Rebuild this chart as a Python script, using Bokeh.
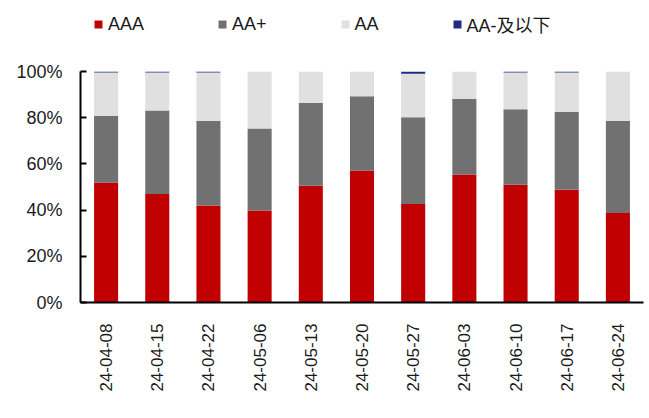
import math
from bokeh.plotting import figure
from bokeh.layouts import column
from bokeh.models import ColumnDataSource, Legend, LegendItem, NumeralTickFormatter, FixedTicker, Range1d
from bokeh.embed import file_html
from bokeh.resources import INLINE

dates = ["24-04-08", "24-04-15", "24-04-22", "24-05-06", "24-05-13", "24-05-20",
         "24-05-27", "24-06-03", "24-06-10", "24-06-17", "24-06-24"]
aaa = [51.9, 47.0, 42.0, 39.8, 50.5, 57.1, 42.6, 55.4, 51.0, 48.8, 38.7]
aa_plus = [28.9, 36.1, 36.6, 35.5, 35.9, 32.2, 37.6, 32.8, 32.7, 33.7, 40.0]
aa = [18.8, 16.5, 21.0, 24.7, 13.6, 10.7, 18.8, 11.8, 15.9, 17.1, 21.3]
aa_minus = [0.4, 0.4, 0.4, 0.0, 0.0, 0.0, 1.0, 0.0, 0.4, 0.4, 0.0]
series_names = ["AAA", "AA+", "AA", "AA-及以下"]
y_ticks = [0, 0.2, 0.4, 0.6, 0.8, 1.0]

colors = ["#C00000", "#717171", "#E0E0E0", "#1F2A85"]
keys = ["aaa", "aa_plus", "aa", "aa_minus"]

src = ColumnDataSource(dict(
    x=dates,
    aaa=[v / 100 for v in aaa],
    aa_plus=[v / 100 for v in aa_plus],
    aa=[v / 100 for v in aa],
    aa_minus=[v / 100 for v in aa_minus],
))

font = "Liberation Sans, Arial, Noto Sans CJK SC, sans-serif"
text_color = "#1a1a1a"

# ---- legend strip (same stacked data, y-range set above the data so no bars show) ----
lf = figure(width=646, height=40, output_backend="svg", toolbar_location=None,
            x_range=dates, y_range=Range1d(2, 3),
            x_axis_location=None, y_axis_location=None,
            min_border_left=80, min_border_right=3, min_border_top=0, min_border_bottom=0)
lf.xgrid.visible = False
lf.ygrid.visible = False
lf.outline_line_color = None
legend_rs = lf.vbar_stack(keys, x="x", width=0.47, color=colors, line_color=None, source=src)
items = [LegendItem(label=n, renderers=[r]) for n, r in zip(series_names, legend_rs)]
legend = Legend(items=items, orientation="horizontal", location=(13, 3),
                glyph_width=10, glyph_height=10, label_standoff=5, spacing=73,
                padding=0, margin=0, border_line_color=None, background_fill_alpha=0,
                label_text_font_size="18px", label_text_font=font,
                label_text_color=text_color)
lf.add_layout(legend, "center")

# ---- main chart ----
p = figure(x_range=dates, y_range=Range1d(0, 1), width=646, height=374,
           output_backend="svg", toolbar_location=None,
           min_border_left=80, min_border_right=3, min_border_top=31, min_border_bottom=112)

p.vbar_stack(keys, x="x", width=0.47, color=colors, line_color=None, source=src)

p.xgrid.visible = False
p.ygrid.visible = False
p.outline_line_color = None

p.yaxis.ticker = FixedTicker(ticks=y_ticks)
p.yaxis.formatter = NumeralTickFormatter(format="0%")
p.yaxis.axis_line_width = 2
p.yaxis.axis_line_color = "black"
p.yaxis.major_tick_in = 6
p.yaxis.major_tick_out = 0
p.yaxis.major_tick_line_width = 2
p.yaxis.minor_tick_line_color = None
p.yaxis.major_label_standoff = 18
p.yaxis.major_label_text_font_size = "18px"
p.yaxis.major_label_text_font = font
p.yaxis.major_label_text_color = text_color

p.xaxis.axis_line_width = 2
p.xaxis.axis_line_color = "black"
p.xaxis.major_tick_line_color = None
p.xaxis.minor_tick_line_color = None
p.xaxis.major_label_orientation = math.pi / 2
p.xaxis.major_label_standoff = 15
p.xaxis.major_label_text_font_size = "17px"
p.xaxis.major_label_text_font = font
p.xaxis.major_label_text_color = text_color

layout = column(lf, p, spacing=0)
open("out.html", "w").write(file_html(layout, INLINE))
